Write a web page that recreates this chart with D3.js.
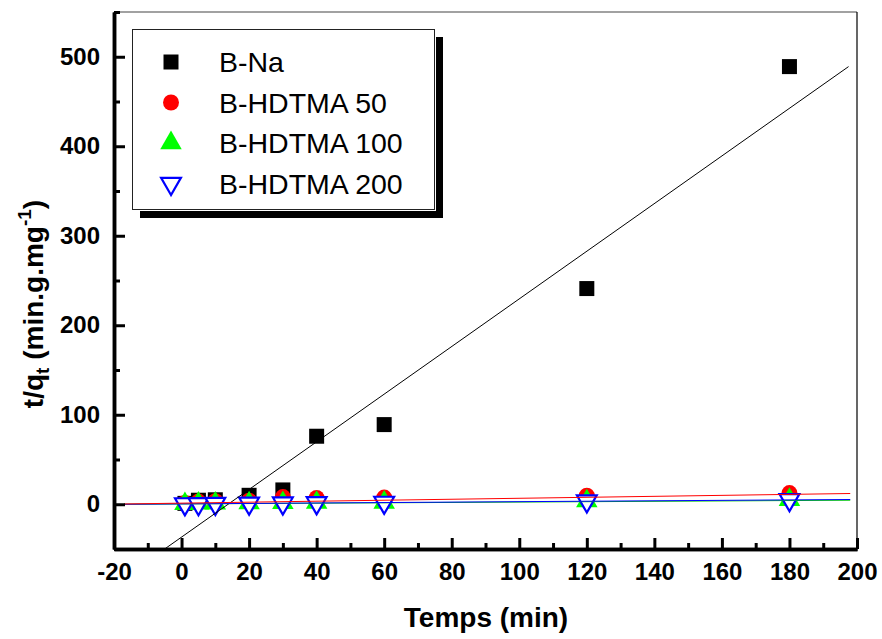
<!DOCTYPE html>
<html>
<head>
<meta charset="utf-8">
<script src="https://cdn.jsdelivr.net/npm/d3@7"></script>
<style>
  body { margin: 0; background: #fff; }
  svg { display: block; font-family: Arial, "Liberation Sans", sans-serif; }
</style>
</head>
<body>
<div id="container"></div>
<script>
const width = 882;
const height = 639;
const margin = { t: 12, r: 25, b: 90, l: 114 };

// time (min)
const times = [1, 5, 10, 20, 30, 40, 60, 120, 180];

// t/qt series
const bNa = [1, 4.5, 5, 10, 16, 76, 89, 241, 489];
const hdtma50 = [1.5, 3, 3.5, 4, 8, 7, 7.5, 9.5, 12.5];
const hdtma100 = [0.5, 1, 1, 1.3, 1.5, 1.8, 2, 3.5, 5];
const hdtma200 = [0.3, 0.5, 0.7, 1, 1.2, 1.5, 2, 3.5, 5];

// linear fit end points
const fitNa = [[-5, -50], [197.5, 489]];
const fit50 = [[-17, 0.3], [198, 12]];
const fit100 = [[-17, 0], [198, 4.5]];
const fit200 = [[-17, 0], [198, 5.3]];

const xTicks = d3.range(-20, 201, 20);
const xMinor = d3.range(-10, 200, 20);
const yTicks = d3.range(0, 501, 100);
const yMinor = d3.range(-50, 551, 100);

const seriesNames = ["B-Na", "B-HDTMA 50", "B-HDTMA 100", "B-HDTMA 200"];

const x = d3.scaleLinear().domain([-20, 200]).range([margin.l, width - margin.r]);
const y = d3.scaleLinear().domain([-50, 550]).range([height - margin.b, margin.t]);

const svg = d3.select("#container")
  .append("svg")
  .attr("width", width)
  .attr("height", height);

svg.append("defs").append("clipPath").attr("id", "plot")
  .append("rect")
  .attr("x", margin.l).attr("y", margin.t)
  .attr("width", x(200) - margin.l).attr("height", y(-50) - margin.t);

// markers
const sym = {
  square: d3.symbol().type(d3.symbolSquare).size(225),
  circle: d3.symbol().type(d3.symbolCircle).size(200),
  tri: d3.symbol().type(d3.symbolTriangle).size(200),
};

const series = [
  { vals: bNa, path: sym.square(), fill: "#000", stroke: "none", rot: 0 },
  { vals: hdtma50, path: sym.circle(), fill: "#ff0000", stroke: "none", rot: 0 },
  { vals: hdtma100, path: sym.tri(), fill: "#00ff00", stroke: "none", rot: 0 },
  { vals: hdtma200, path: d3.symbol().type(d3.symbolTriangle).size(170)(), fill: "#fff", stroke: "#0000ff", rot: 180 },
];

const marks = svg.append("g").attr("clip-path", "url(#plot)");
series.forEach(s => {
  marks.append("g")
    .selectAll("path")
    .data(times.map((t, i) => [t, s.vals[i]]))
    .enter()
    .append("path")
    .attr("d", s.path)
    .attr("transform", d => `translate(${x(d[0])},${y(d[1])}) rotate(${s.rot})`)
    .attr("fill", s.fill)
    .attr("stroke", s.stroke)
    .attr("stroke-width", 2.2);
});

// fit lines
const line = d3.line().x(d => x(d[0])).y(d => y(d[1]));
[[fitNa, "#000"], [fit100, "#00cc00"], [fit200, "#0000ff"], [fit50, "#ff0000"]].forEach(([pts, c]) => {
  marks.append("path")
    .attr("d", line(pts))
    .attr("fill", "none")
    .attr("stroke", c)
    .attr("stroke-width", 1);
});

// frame top / right
svg.append("line")
  .attr("x1", x(-20)).attr("x2", x(200)).attr("y1", y(550)).attr("y2", y(550))
  .attr("stroke", "#444").attr("stroke-width", 1.2);
svg.append("line")
  .attr("x1", x(200)).attr("x2", x(200)).attr("y1", y(550)).attr("y2", y(-50))
  .attr("stroke", "#000").attr("stroke-width", 1.2);

// axes
const fmt = d => String(d);
const xAxis = svg.append("g")
  .attr("transform", `translate(0,${y(-50)})`)
  .call(d3.axisBottom(x).tickValues(xTicks).tickFormat(fmt).tickSize(-11).tickPadding(14).tickSizeOuter(0));
const xAxisMinor = svg.append("g")
  .attr("transform", `translate(0,${y(-50)})`)
  .call(d3.axisBottom(x).tickValues(xMinor).tickSize(-6).tickFormat("").tickSizeOuter(0));

const yAxis = svg.append("g")
  .attr("transform", `translate(${x(-20)},0)`)
  .call(d3.axisLeft(y).tickValues(yTicks).tickFormat(fmt).tickSize(-11).tickPadding(14).tickSizeOuter(0));
const yAxisMinor = svg.append("g")
  .attr("transform", `translate(${x(-20)},0)`)
  .call(d3.axisLeft(y).tickValues(yMinor).tickSize(-6).tickFormat("").tickSizeOuter(0));

[xAxis, xAxisMinor, yAxis, yAxisMinor].forEach(g => {
  g.select(".domain").attr("stroke", "#000").attr("stroke-width", 3.5);
  g.selectAll(".tick line").attr("stroke", "#000").attr("stroke-width", 3);
  g.selectAll("text")
    .attr("fill", "#000")
    .attr("font-size", "24px")
    .attr("font-weight", "bold")
    .attr("font-family", "Arial, 'Liberation Sans', sans-serif");
});
xAxis.selectAll("text").attr("dy", "0.71em");

// axis titles
svg.append("text")
  .attr("x", 486)
  .attr("y", 627)
  .attr("text-anchor", "middle")
  .attr("font-size", "28px")
  .attr("font-weight", "bold")
  .text("Temps (min)");

const yTitle = svg.append("text")
  .attr("transform", "translate(43,304) rotate(-90)")
  .attr("text-anchor", "middle")
  .attr("font-size", "28px")
  .attr("font-weight", "bold");
yTitle.append("tspan").text("t/q");
yTitle.append("tspan").attr("font-size", "19px").attr("dy", 6).text("t");
yTitle.append("tspan").attr("dy", -6).text(" (min.g.mg");
yTitle.append("tspan").attr("font-size", "19px").attr("dy", -12).text("-1");
yTitle.append("tspan").attr("dy", 12).text(")");

// legend
const legend = svg.append("g");
legend.append("rect")
  .attr("x", 436).attr("y", 37).attr("width", 7).attr("height", 181).attr("fill", "#000");
legend.append("rect")
  .attr("x", 140).attr("y", 211).attr("width", 303).attr("height", 7).attr("fill", "#000");
legend.append("rect")
  .attr("x", 132.5).attr("y", 29.5).attr("width", 302).attr("height", 180)
  .attr("fill", "#fff").attr("stroke", "#222").attr("stroke-width", 1);

const legendRows = legend.selectAll(".row")
  .data(seriesNames)
  .enter()
  .append("g")
  .attr("class", "row")
  .attr("transform", (d, i) => `translate(0,${72 + i * 40.5})`);

legendRows.append("path")
  .attr("d", (d, i) => series[i].path)
  .attr("transform", (d, i) => `translate(171,-10) rotate(${series[i].rot})`)
  .attr("fill", (d, i) => series[i].fill)
  .attr("stroke", (d, i) => series[i].stroke)
  .attr("stroke-width", 2.2);

legendRows.append("text")
  .attr("x", 219)
  .attr("font-size", "28.5px")
  .text(d => d);
</script>
</body>
</html>
